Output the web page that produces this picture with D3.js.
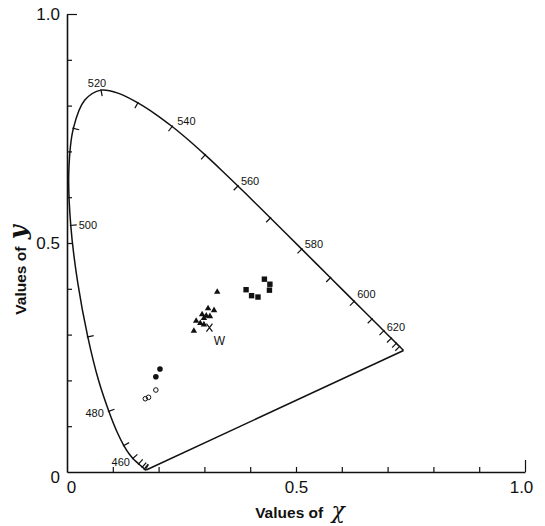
<!DOCTYPE html>
<html>
<head>
<meta charset="utf-8">
<script src="https://cdn.jsdelivr.net/npm/d3@7"></script>
<style>
  body { margin: 0; background: #fff; }
  svg { display: block; }
</style>
</head>
<body>
<script>
// spectral locus (CIE 1931), wavelength -> chromaticity x, y
const wavelengths = [380,385,390,395,400,405,410,415,420,425,430,435,440,445,450,455,460,465,470,475,480,485,490,495,500,505,510,515,520,525,530,535,540,545,550,555,560,565,570,575,580,585,590,595,600,605,610,615,620,625,630,635,640,645,650,655,660,665,670,680,690,700];
const locusX = [0.1741,0.1740,0.1738,0.1736,0.1733,0.1730,0.1726,0.1721,0.1714,0.1703,0.1689,0.1669,0.1644,0.1611,0.1566,0.1510,0.1440,0.1355,0.1241,0.1096,0.0913,0.0687,0.0454,0.0235,0.0082,0.0039,0.0139,0.0389,0.0743,0.1142,0.1547,0.1929,0.2296,0.2658,0.3016,0.3373,0.3731,0.4087,0.4441,0.4788,0.5125,0.5448,0.5752,0.6029,0.6270,0.6482,0.6658,0.6801,0.6915,0.7006,0.7079,0.7140,0.7190,0.7230,0.7260,0.7283,0.7300,0.7311,0.7320,0.7334,0.7344,0.7347];
const locusY = [0.0050,0.0050,0.0049,0.0049,0.0048,0.0048,0.0048,0.0048,0.0051,0.0058,0.0069,0.0086,0.0109,0.0138,0.0177,0.0227,0.0297,0.0399,0.0578,0.0868,0.1327,0.2007,0.2950,0.4127,0.5384,0.6548,0.7502,0.8120,0.8338,0.8262,0.8059,0.7816,0.7543,0.7243,0.6923,0.6589,0.6245,0.5896,0.5547,0.5202,0.4866,0.4544,0.4242,0.3965,0.3725,0.3514,0.3340,0.3197,0.3083,0.2993,0.2920,0.2859,0.2809,0.2770,0.2740,0.2717,0.2700,0.2689,0.2680,0.2666,0.2656,0.2653];

// hash marks along the locus and the labelled ones
const hashWavelengths = [420,430,440,450,460,470,480,490,500,510,520,530,540,550,560,570,580,590,600,610,620,630,640,650];
const labelWavelengths = [460,480,500,520,540,560,580,600,620];

// measured points
const squares = [[0.431,0.421],[0.443,0.410],[0.442,0.397],[0.391,0.398],[0.403,0.385],[0.417,0.382]];
const triangles = [[0.328,0.393],[0.308,0.357],[0.321,0.353],[0.295,0.344],[0.304,0.341],[0.312,0.340],[0.299,0.336],[0.282,0.330],[0.291,0.325],[0.299,0.322],[0.277,0.308]];
const filledCircles = [[0.203,0.225],[0.194,0.208]];
const openCircles = [[0.194,0.179],[0.178,0.163],[0.171,0.160]];
const whitePoint = [0.311,0.315];

// axes
const axisTicks = [0,0.1,0.2,0.3,0.4,0.5,0.6,0.7,0.8,0.9,1.0];
const axisLabelValues = [0, 0.5, 1.0];
const axisLabelText = ["0", "0.5", "1.0"];

const width = 545, height = 526;

const svg = d3.select("body").append("svg")
  .attr("width", width)
  .attr("height", height);

const x = d3.scaleLinear().domain([0, 1]).range([67, 525]);
const y = d3.scaleLinear().domain([0, 1]).range([472, 14]);

function tickText(v) {
  const i = axisLabelValues.findIndex(a => Math.abs(a - v) < 1e-9);
  return i < 0 ? "" : axisLabelText[i];
}

// x axis, ticks pointing up
const gx = svg.append("g")
  .attr("transform", `translate(0,${y(0)})`)
  .call(d3.axisBottom(x).tickValues(axisTicks).tickFormat(tickText)
    .tickSizeInner(-5).tickSizeOuter(0).tickPadding(9));

// y axis, ticks pointing right
const gy = svg.append("g")
  .attr("transform", `translate(${x(0)},0)`)
  .call(d3.axisLeft(y).tickValues(axisTicks).tickFormat(tickText)
    .tickSizeInner(-5).tickSizeOuter(0).tickPadding(7));

[gx, gy].forEach(g => {
  g.select(".domain").attr("stroke", "#111").attr("stroke-width", 1.6);
  g.selectAll(".tick line").attr("stroke", "#111").attr("stroke-width", 1.2);
  g.selectAll(".tick text")
    .attr("font-family", "Liberation Sans, Arial, sans-serif")
    .attr("font-size", 17)
    .attr("fill", "#111");
});
// longer end ticks at 1.0
gx.selectAll(".tick").filter(d => d === 1).select("line").attr("y2", -12);
gy.selectAll(".tick").filter(d => d === 1).select("line").attr("x2", 10);
gx.selectAll(".tick").filter(d => d === 0).select("line").remove();
gy.selectAll(".tick").filter(d => d === 0).select("line").remove();
gy.selectAll(".tick").filter(d => d === 0).select("text").attr("dy", "0.62em");
gx.selectAll(".tick").filter(d => d === 0).select("text").attr("dx", 4);
gx.selectAll(".tick").filter(d => d === 1).select("text").attr("dx", -4);

// axis titles
const xTitle = svg.append("text")
  .attr("x", 300).attr("y", 518)
  .attr("text-anchor", "middle")
  .attr("fill", "#111");
xTitle.append("tspan")
  .attr("font-family", "Liberation Sans, Arial, sans-serif")
  .attr("font-weight", "bold").attr("font-size", 15.5)
  .text("Values of ");
xTitle.append("tspan")
  .attr("dx", 4)
  .attr("font-family", "DejaVu Serif, serif")
  .attr("font-style", "italic").attr("font-size", 22)
  .text("χ");

const yTitle = svg.append("text")
  .attr("transform", "translate(26,270) rotate(-90)")
  .attr("text-anchor", "middle")
  .attr("fill", "#111");
yTitle.append("tspan")
  .attr("font-family", "Liberation Sans, Arial, sans-serif")
  .attr("font-weight", "bold").attr("font-size", 15.5)
  .text("Values of ");
yTitle.append("tspan")
  .attr("dx", 3)
  .attr("font-family", "DejaVu Serif, serif")
  .attr("font-style", "italic").attr("font-weight", "bold").attr("font-size", 24)
  .text("y");

// spectral locus
const locus = wavelengths.map((w, i) => ({ w, x: locusX[i], y: locusY[i] }));
const line = d3.line().x(d => x(d.x)).y(d => y(d.y)).curve(d3.curveCatmullRom);

svg.append("path")
  .datum(locus)
  .attr("d", line)
  .attr("fill", "none")
  .attr("stroke", "#111")
  .attr("stroke-width", 1.5);

// purple line
svg.append("line")
  .attr("x1", x(locus[0].x)).attr("y1", y(locus[0].y))
  .attr("x2", x(locus[locus.length - 1].x)).attr("y2", y(locus[locus.length - 1].y))
  .attr("stroke", "#111")
  .attr("stroke-width", 1.5);

// hash marks, pointing toward the white point
const hashes = hashWavelengths.map(w => {
  const i = wavelengths.indexOf(w);
  const a = locus[Math.max(0, i - 1)], b = locus[Math.min(locus.length - 1, i + 1)];
  const px = x(locus[i].x), py = y(locus[i].y);
  let tx = x(b.x) - x(a.x), ty = y(b.y) - y(a.y);
  const len = Math.hypot(tx, ty) || 1;
  let nx = -ty / len, ny = tx / len;
  const wx = x(whitePoint[0]) - px, wy = y(whitePoint[1]) - py;
  if (nx * wx + ny * wy < 0) { nx = -nx; ny = -ny; }
  return { px, py, nx, ny };
});

svg.append("g").selectAll("line")
  .data(hashes)
  .join("line")
  .attr("x1", d => d.px - d.nx * 1).attr("y1", d => d.py - d.ny * 1)
  .attr("x2", d => d.px + d.nx * 6).attr("y2", d => d.py + d.ny * 6)
  .attr("stroke", "#111")
  .attr("stroke-width", 1.2);

// wavelength labels
const labelOffset = {
  460: [-3, 4, "end"], 480: [-5, 2, "end"], 500: [8, 0, "start"],
  520: [-4, -7, "middle"], 540: [5, -5, "start"], 560: [3, -5, "start"],
  580: [3, -5, "start"], 600: [3, -7, "start"], 620: [3, -4, "start"]
};
svg.append("g").selectAll("text")
  .data(labelWavelengths)
  .join("text")
  .attr("x", w => x(locusX[wavelengths.indexOf(w)]) + labelOffset[w][0])
  .attr("y", w => y(locusY[wavelengths.indexOf(w)]) + labelOffset[w][1])
  .attr("text-anchor", w => labelOffset[w][2])
  .attr("dy", "0.35em")
  .attr("font-family", "Liberation Sans, Arial, sans-serif")
  .attr("font-size", 11)
  .attr("fill", "#111")
  .text(d => d);

// data points
svg.append("g").selectAll("rect")
  .data(squares)
  .join("rect")
  .attr("x", d => x(d[0]) - 2.7).attr("y", d => y(d[1]) - 2.7)
  .attr("width", 5.4).attr("height", 5.4)
  .attr("fill", "#111");

svg.append("g").selectAll("path")
  .data(triangles)
  .join("path")
  .attr("transform", d => `translate(${x(d[0])},${y(d[1])})`)
  .attr("d", d3.symbol(d3.symbolTriangle, 18))
  .attr("fill", "#111");

svg.append("g").selectAll("circle")
  .data(filledCircles)
  .join("circle")
  .attr("cx", d => x(d[0])).attr("cy", d => y(d[1]))
  .attr("r", 2.8)
  .attr("fill", "#111");

svg.append("g").selectAll("circle")
  .data(openCircles)
  .join("circle")
  .attr("cx", d => x(d[0])).attr("cy", d => y(d[1]))
  .attr("r", 2.3)
  .attr("fill", "none")
  .attr("stroke", "#111")
  .attr("stroke-width", 1);

// white point
svg.append("path")
  .attr("transform", `translate(${x(whitePoint[0])},${y(whitePoint[1])})`)
  .attr("d", "M-3,-4L3,4M3,-4L-3,4")
  .attr("stroke", "#111")
  .attr("stroke-width", 1.2);

svg.append("text")
  .attr("x", x(whitePoint[0]) + 10).attr("y", y(whitePoint[1]) + 17)
  .attr("text-anchor", "middle")
  .attr("font-family", "Liberation Sans, Arial, sans-serif")
  .attr("font-size", 12)
  .attr("fill", "#111")
  .text("W");
</script>
</body>
</html>
